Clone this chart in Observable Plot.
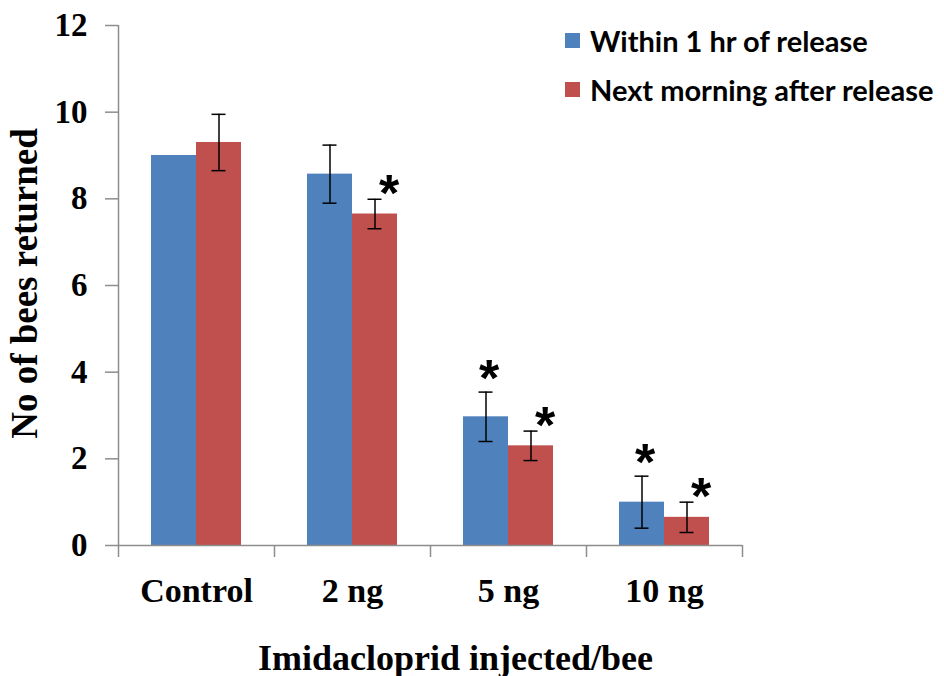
<!DOCTYPE html>
<html><head><meta charset="utf-8">
<script src="https://cdn.jsdelivr.net/npm/d3@7"></script>
<script src="https://cdn.jsdelivr.net/npm/@observablehq/plot@0.6"></script>
<style>
body{margin:0;background:#fff;}
#chart{position:relative;width:944px;height:676px;}
#legend{position:absolute;left:565px;top:16px;font-family:Lato,"Open Sans",sans-serif;font-weight:bold;font-size:29px;color:#000;}
.item{display:flex;align-items:center;height:49px;white-space:nowrap;}
.sw{width:15px;height:15px;margin-right:10px;flex:none;}
</style></head><body>
<div id="chart"><div id="legend"></div></div>
<script>
const categories = ["Control", "2 ng", "5 ng", "10 ng"];
const series = ["Within 1 hr of release", "Next morning after release"];
const withinValues = [9.0, 8.57, 2.97, 1.0];
const withinErrors = [0, 0.67, 0.57, 0.6];
const withinSignificant = [false, false, true, true];
const nextValues = [9.3, 7.65, 2.3, 0.65];
const nextErrors = [0.65, 0.34, 0.34, 0.35];
const nextSignificant = [false, true, true, true];
const yTicks = [0, 2, 4, 6, 8, 10, 12];
const xTitle = "Imidacloprid injected/bee";
const yTitle = "No of bees returned";
const colors = ["#4F81BD", "#C0504D"];

const blue = categories.map((c, i) => ({category: c, series: series[0], value: withinValues[i], err: withinErrors[i], sig: withinSignificant[i]}));
const red = categories.map((c, i) => ({category: c, series: series[1], value: nextValues[i], err: nextErrors[i], sig: nextSignificant[i]}));

const serif = "'Liberation Serif','Times New Roman',serif";
const sans = "'Liberation Sans',Arial,sans-serif";
const axisColor = "#8d8d8d";

function errMarks(data, dx, insL, insR) {
  const d = data.filter(r => r.err > 0);
  return [
    Plot.ruleX(d, {x: "category", y1: r => r.value - r.err, y2: r => r.value + r.err, dx, stroke: "black", strokeWidth: 1.5}),
    Plot.tickY(d, {x: "category", y: r => r.value + r.err, insetLeft: insL, insetRight: insR, stroke: "black", strokeWidth: 1.5}),
    Plot.tickY(d, {x: "category", y: r => r.value - r.err, insetLeft: insL, insetRight: insR, stroke: "black", strokeWidth: 1.5})
  ];
}

const chart = Plot.plot({
  width: 944,
  height: 676,
  marginLeft: 118,
  marginRight: 202,
  marginTop: 25,
  marginBottom: 131,
  x: {type: "band", domain: categories, padding: 0},
  y: {domain: [0, 12]},
  marks: [
    Plot.barY(blue, {x: "category", y: "value", fill: colors[0], insetLeft: 33, insetRight: 78}),
    Plot.barY(red, {x: "category", y: "value", fill: colors[1], insetLeft: 78, insetRight: 33}),
    ...errMarks(blue, -22.5, 48.5, 93.5),
    ...errMarks(red, 22.5, 93.5, 48.5),
    Plot.text(blue.filter(d => d.sig), {x: "category", y: d => d.value + d.err, text: () => "*", dx: -19.5, dy: -13, fontSize: 52, fontWeight: "bold", fontFamily: sans, fill: "black"}),
    Plot.text(red.filter(d => d.sig), {x: "category", y: d => d.value + d.err, text: () => "*", dx: 36.5, dy: -5, fontSize: 52, fontWeight: "bold", fontFamily: sans, fill: "black"}),
    Plot.ruleY([0], {stroke: axisColor, strokeWidth: 1.5}),
    Plot.ruleX([categories[0]], {dx: -78, stroke: axisColor, strokeWidth: 1.5}),
    Plot.ruleX(categories, {dx: -78, insetTop: 520, insetBottom: -12, stroke: axisColor, strokeWidth: 1.5}),
    Plot.ruleX([categories[categories.length - 1]], {dx: 78, insetTop: 520, insetBottom: -12, stroke: axisColor, strokeWidth: 1.5}),
    Plot.axisY({ticks: yTicks, tickSize: 13, tickPadding: 18, tickFormat: d => String(d), fontSize: 33, fontFamily: serif, fontWeight: "bold", stroke: axisColor, strokeWidth: 1.5, fill: "black", label: null}),
    Plot.axisX({tickSize: 0, tickPadding: 32, fontSize: 34, fontFamily: serif, fontWeight: "bold", fill: "black", label: null}),
    Plot.text([xTitle], {frameAnchor: "bottom", text: d => d, dx: 25, dy: 124, lineAnchor: "bottom", fontSize: 36, fontFamily: serif, fontWeight: "bold", fill: "black"}),
    Plot.text([yTitle], {frameAnchor: "left", text: d => d, rotate: -90, textAnchor: "middle", dx: -93, dy: -2, fontSize: 37, fontFamily: serif, fontWeight: "bold", fill: "black"})
  ]
});
document.getElementById("chart").prepend(chart);

const legend = document.getElementById("legend");
series.forEach((s, i) => {
  const item = document.createElement("div");
  item.className = "item";
  const sw = document.createElement("span");
  sw.className = "sw";
  sw.style.background = colors[i];
  const label = document.createElement("span");
  label.textContent = s;
  item.append(sw, label);
  legend.append(item);
});
</script>
</body></html>
